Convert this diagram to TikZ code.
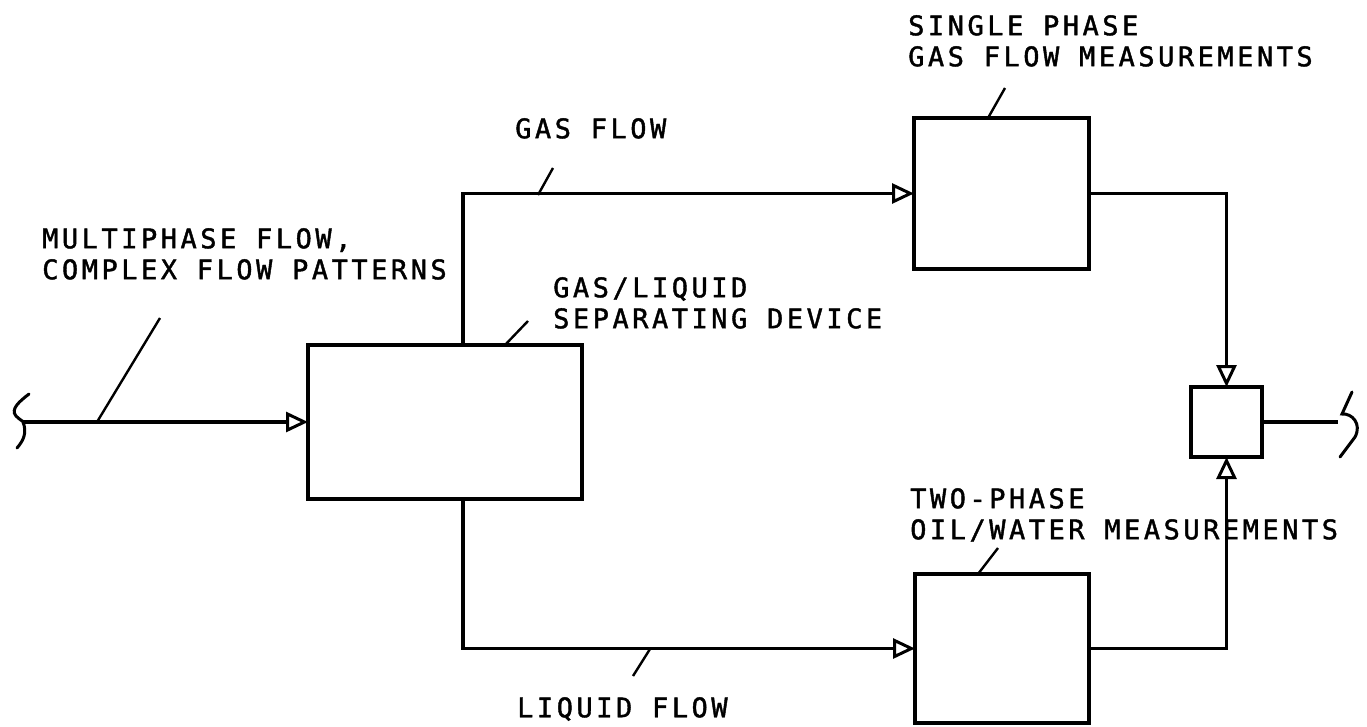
\documentclass[tikz,border=0pt]{standalone}
\usepackage{fontspec}
\newfontfamily\lblfont[LetterSpace=13,FakeBold=1.5]{DejaVu Sans Mono}
\usetikzlibrary{arrows.meta}
\begin{document}
\begin{tikzpicture}[x=1pt,y=-1pt,
  line/.style={line width=3.5pt},
  arr/.style={line, -{Triangle[open,length=22pt,width=20pt,line width=3pt]}},
  blk/.style={draw, line width=3.5pt, inner sep=0pt, outer sep=0pt},
  lead/.style={line width=2.4pt},
  brk/.style={line width=3pt, line cap=round},
  lbl/.style={inner sep=0pt, anchor=north west, align=left, font=\lblfont\fontsize{27}{31}\selectfont}]
\useasboundingbox (0,0) rectangle (1367,726);
% blocks
\node[blk, minimum width=274pt, minimum height=154pt] (sep) at (445,422) {};
\node[blk, minimum width=175pt, minimum height=151pt] (gasbox) at (1001.5,193.5) {};
\node[blk, minimum width=174pt, minimum height=149pt] (liqbox) at (1002,648.5) {};
\node[blk, minimum width=71pt, minimum height=70pt] (mix) at (1226.5,422) {};
% free ends
\coordinate (inL) at (22,422);
\coordinate (outR) at (1338,422);
% connectors
\draw[arr] (inL) -- (sep.west);
\draw[arr] ([xshift=18pt]sep.north) |- (gasbox.west);
\draw[arr] ([xshift=18pt]sep.south) |- (liqbox.west);
\draw[arr] (gasbox.east) -| (mix.north);
\draw[arr] (liqbox.east) -| (mix.south);
\draw[line] (mix.east) -- (outR);
% break symbols
\draw[brk] (29,394) .. controls (20,401) and (10,409) .. (16,416) .. controls (20,420) and (23,421) .. (23,422)
  .. controls (27,432) and (24,440) .. (17,448);
\draw[brk] (1352,392) -- (1342,414) .. controls (1352,413) and (1362,424) .. (1355,437) -- (1340,457);
% leader lines
\draw[lead] (97,422) -- (160,318);
\draw[lead] (505,345) -- (528,321);
\draw[lead] (538,195) -- (553,168);
\draw[lead] (988,118) -- (1005,88);
\draw[lead] (978,574) -- (998,548);
\draw[lead] (650,649) -- (633,676);
% labels
\node[lbl] (tin) at (42,228) {MULTIPHASE FLOW,\\COMPLEX FLOW PATTERNS};
\node[lbl] (tgas) at (515,118) {GAS FLOW};
\node[lbl] (tsep) at (553,277) {GAS/LIQUID\\SEPARATING DEVICE};
\node[lbl] (tgb) at (908,15) {SINGLE PHASE\\GAS FLOW MEASUREMENTS};
\node[lbl] (tlb) at (910,488) {TWO-PHASE\\OIL/WATER MEASUREMENTS};
\node[lbl] (tliq) at (517,697) {LIQUID FLOW};
\end{tikzpicture}
\end{document}
